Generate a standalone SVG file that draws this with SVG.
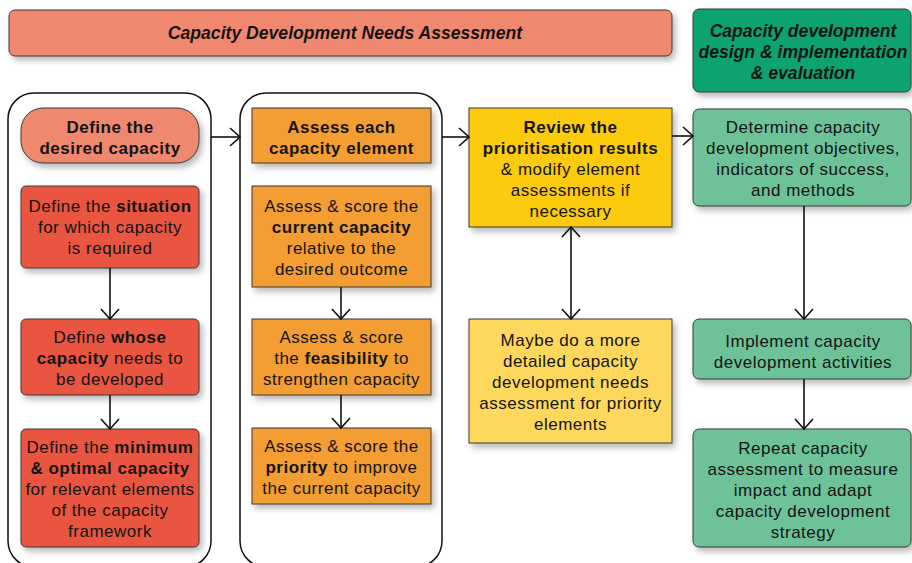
<svg xmlns="http://www.w3.org/2000/svg" width="912" height="563" viewBox="0 0 912 563">
  <style>
    text { font-family: "Liberation Sans", Arial, sans-serif; font-size: 17px; fill: #141414; text-anchor: middle; letter-spacing: 0.5px; }
    .b { font-weight: 700; }
    .hd { font-weight: 700; font-style: italic; font-size: 17.6px; letter-spacing: 0; }
    .box { stroke: #3a3a3a; stroke-width: 1; filter: url(#shadow); }
    .frame { fill: none; stroke: #111; stroke-width: 1.5; }
    .salmon { fill: #F0886F; }
    .red { fill: #E9543F; }
    .orange { fill: #F39D30; }
    .gold { fill: #FCCB0B; }
    .pale { fill: #FED85C; }
    .teal { fill: #10A36F; }
    .mint { fill: #6EC298; }
    .conn line { stroke: #111; stroke-width: 1.6; marker-end: url(#chev); }
  </style>
  <defs>
    <filter id="shadow" x="-10%" y="-10%" width="130%" height="140%">
      <feDropShadow dx="3" dy="4" stdDeviation="3" flood-color="#000" flood-opacity="0.28"/>
    </filter>
    <marker id="chev" viewBox="0 0 12 20" refX="11" refY="10" markerWidth="12" markerHeight="20" markerUnits="userSpaceOnUse" orient="auto-start-reverse">
      <path d="M1,1 L11,10 L1,19" fill="none" stroke="#111" stroke-width="1.6"/>
    </marker>
  </defs>

  <!-- phase headers -->
  <g id="header-assessment">
    <rect class="box salmon" x="9" y="10" width="663" height="46" rx="6"/>
    <text class="hd" x="345" y="39">Capacity Development Needs Assessment</text>
  </g>
  <g id="header-design">
    <rect class="box teal" x="693" y="9" width="218" height="83" rx="6"/>
    <text class="hd" x="803" y="37">Capacity development</text>
    <text class="hd" x="803" y="58">design &amp; implementation</text>
    <text class="hd" x="803" y="79">&amp; evaluation</text>
  </g>

  <!-- stage frames -->
  <g id="frame-define">
    <rect class="frame" x="8" y="93" width="203" height="474" rx="26"/>
  </g>
  <g id="frame-assess">
    <rect class="frame" x="240" y="93" width="202" height="474" rx="26"/>
  </g>

  <!-- define column -->
  <g id="define-desired">
    <rect class="box salmon" x="21" y="108" width="178" height="55" rx="22"/>
    <text class="b" x="110" y="133">Define the</text>
    <text class="b" x="110" y="154">desired capacity</text>
  </g>
  <g id="define-situation">
    <rect class="box red" x="21" y="186" width="178" height="82" rx="5"/>
    <text x="110" y="212">Define the <tspan class="b">situation</tspan></text>
    <text x="110" y="233">for which capacity</text>
    <text x="110" y="254">is required</text>
  </g>
  <g id="define-whose">
    <rect class="box red" x="21" y="319" width="178" height="76" rx="5"/>
    <text x="110" y="343">Define <tspan class="b">whose</tspan></text>
    <text x="110" y="364"><tspan class="b">capacity</tspan> needs to</text>
    <text x="110" y="385">be developed</text>
  </g>
  <g id="define-minimum">
    <rect class="box red" x="21" y="429" width="178" height="118" rx="5"/>
    <text x="110" y="453">Define the <tspan class="b">minimum</tspan></text>
    <text class="b" x="110" y="474">&amp; optimal capacity</text>
    <text x="110" y="495">for relevant elements</text>
    <text x="110" y="516">of the capacity</text>
    <text x="110" y="537">framework</text>
  </g>

  <!-- assess column -->
  <g id="assess-element">
    <rect class="box orange" x="252" y="108" width="179" height="55"/>
    <text class="b" x="341.5" y="133">Assess each</text>
    <text class="b" x="341.5" y="154">capacity element</text>
  </g>
  <g id="assess-current">
    <rect class="box orange" x="252" y="186" width="179" height="101"/>
    <text x="341.5" y="212">Assess &amp; score the</text>
    <text class="b" x="341.5" y="233">current capacity</text>
    <text x="341.5" y="254">relative to the</text>
    <text x="341.5" y="275">desired outcome</text>
  </g>
  <g id="assess-feasibility">
    <rect class="box orange" x="252" y="319" width="179" height="76"/>
    <text x="341.5" y="343">Assess &amp; score</text>
    <text x="341.5" y="364">the <tspan class="b">feasibility</tspan> to</text>
    <text x="341.5" y="385">strengthen capacity</text>
  </g>
  <g id="assess-priority">
    <rect class="box orange" x="252" y="428" width="179" height="76"/>
    <text x="341.5" y="452">Assess &amp; score the</text>
    <text x="341.5" y="473"><tspan class="b">priority</tspan> to improve</text>
    <text x="341.5" y="494">the current capacity</text>
  </g>

  <!-- review column -->
  <g id="review-results">
    <rect class="box gold" x="469" y="108" width="203" height="119"/>
    <text class="b" x="570.5" y="133">Review the</text>
    <text class="b" x="570.5" y="154">prioritisation results</text>
    <text x="570.5" y="175">&amp; modify element</text>
    <text x="570.5" y="196">assessments if</text>
    <text x="570.5" y="217">necessary</text>
  </g>
  <g id="detailed-assessment">
    <rect class="box pale" x="469" y="319" width="203" height="124"/>
    <text x="570.5" y="346">Maybe do a more</text>
    <text x="570.5" y="367">detailed capacity</text>
    <text x="570.5" y="388">development needs</text>
    <text x="570.5" y="409">assessment for priority</text>
    <text x="570.5" y="430">elements</text>
  </g>

  <!-- design & implementation column -->
  <g id="determine-objectives">
    <rect class="box mint" x="693" y="109" width="218" height="97" rx="6"/>
    <text x="803" y="133">Determine capacity</text>
    <text x="803" y="154">development objectives,</text>
    <text x="803" y="175">indicators of success,</text>
    <text x="803" y="196">and methods</text>
  </g>
  <g id="implement-activities">
    <rect class="box mint" x="693" y="319" width="218" height="60" rx="6"/>
    <text x="803" y="347">Implement capacity</text>
    <text x="803" y="368">development activities</text>
  </g>
  <g id="repeat-assessment">
    <rect class="box mint" x="693" y="429" width="218" height="118" rx="6"/>
    <text x="803" y="454">Repeat capacity</text>
    <text x="803" y="475">assessment to measure</text>
    <text x="803" y="496">impact and adapt</text>
    <text x="803" y="517">capacity development</text>
    <text x="803" y="538">strategy</text>
  </g>

  <!-- connectors -->
  <g id="connectors" class="conn">
    <line x1="211" y1="137" x2="240" y2="137"/>
    <line x1="442" y1="137" x2="469" y2="137"/>
    <line x1="672" y1="136" x2="693" y2="136"/>
    <line x1="110" y1="268" x2="110" y2="319"/>
    <line x1="110" y1="395" x2="110" y2="429"/>
    <line x1="341" y1="287" x2="341" y2="319"/>
    <line x1="341" y1="395" x2="341" y2="428"/>
    <line x1="571" y1="227" x2="571" y2="319" style="marker-start:url(#chev)"/>
    <line x1="804" y1="206" x2="804" y2="319"/>
    <line x1="804" y1="379" x2="804" y2="429"/>
  </g>
</svg>
